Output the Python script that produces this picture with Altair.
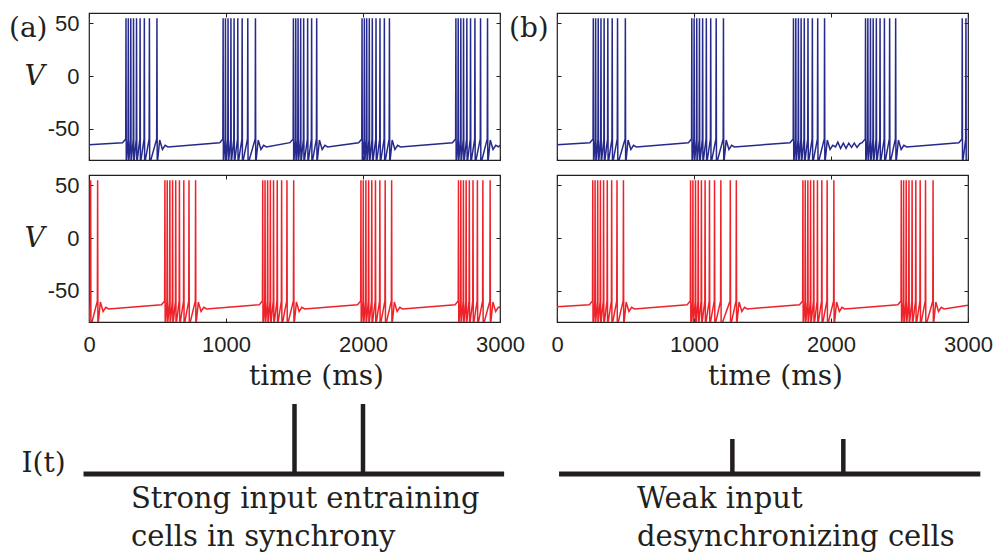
import altair as alt
import pandas as pd

# ---------------- data ----------------
# spike times (ms), grouped by burst
A_TOP_BURSTS = [
    [270, 287, 305, 325, 347, 373, 404, 441, 496],
    [979, 996, 1015, 1036, 1059, 1086, 1118, 1159, 1215],
    [1492, 1509, 1526, 1545, 1567, 1596, 1625, 1662],
    [1993, 2010, 2027, 2046, 2068, 2095, 2124, 2156, 2193],
    [2678, 2695, 2714, 2734, 2758, 2785, 2817, 2858, 2909],
]
A_BOT_BURSTS = [
    [12, 63],
    [554, 571, 590, 610, 633, 660, 692, 730, 778],
    [1268, 1285, 1304, 1324, 1347, 1374, 1406, 1445, 1494],
    [1985, 2002, 2021, 2041, 2064, 2091, 2123, 2162, 2209],
    [2697, 2714, 2733, 2753, 2776, 2803, 2835, 2875, 2928],
]
B_TOP_BURSTS = [
    [265, 282, 301, 321, 344, 371, 403, 442, 499],
    [984, 1001, 1020, 1040, 1063, 1090, 1122, 1162, 1215],
    [1726, 1743, 1762, 1782, 1805, 1832, 1864, 1903, 1953],
    [2252, 2269, 2288, 2308, 2331, 2358, 2390, 2428, 2472],
    [2958, 2985],
]
B_BOT_BURSTS = [
    [261, 278, 297, 317, 340, 367, 399, 438, 485],
    [975, 992, 1011, 1031, 1054, 1081, 1113, 1150, 1196, 1265, 1309],
    [1795, 1812, 1831, 1851, 1874, 1901, 1933, 1972, 2021],
    [2513, 2530, 2549, 2569, 2592, 2619, 2651, 2690, 2745],
]
# subthreshold wiggles in panel (b) top between bursts 3 and 4
B_TOP_WIGGLE_T = [2050, 2070, 2090, 2110, 2130, 2150, 2170, 2190, 2210]
B_TOP_WIGGLE_V = [-63, -69, -64, -69, -64, -68, -64, -68, -64.5]

# trace start / end voltages (mV)
A_TOP_ENDS = [-65.5, -66]
A_BOT_ENDS = [-80, -66]
B_TOP_ENDS = [-65.5, -80]
B_BOT_ENDS = [-65.5, -64]

# voltage levels of the spike waveform (mV)
PEAK_V = 55
ONSET_V = -60
TROUGH_V = -84
PRE_V = -63.5
PRE_DT = 25
AHP_DT = [20, 40, 60, 80]
AHP_V = [-61, -70, -66, -67.5]

T_MAX = 3000
X_TICKS = [0, 1000, 2000, 3000]
Y_TICKS = [-50, 0, 50]

# input pulses I(t)
IN_A_LINE = [-40, 3030]
IN_A_TIMES = [1500, 2000]
IN_A_AMP = [2, 2]
IN_B_LINE = [15, 3090]
IN_B_TIMES = [1280, 2090]
IN_B_AMP = [1, 1]
IN_DOMAIN_TOP = 3.914

BLUE = "#262a8c"
RED = "#ee2229"
INK = "#231f20"
SANS = "Liberation Sans"
SERIF = "DejaVu Serif"


def trace(bursts, ends, extra_t=(), extra_v=()):
    pts = [(0.0, ends[0])]
    for b in bursts:
        if b[0] > PRE_DT + 5:
            pts.append((b[0] - PRE_DT, PRE_V))
        for s in b:
            pts += [(s - 2, ONSET_V), (s, PEAK_V), (s + 2, TROUGH_V)]
        for dt, v in zip(AHP_DT, AHP_V):
            if b[-1] + dt < T_MAX:
                pts.append((b[-1] + dt, v))
    pts += list(zip(extra_t, extra_v))
    pts.append((T_MAX, ends[1]))
    pts.sort()
    df = pd.DataFrame(pts, columns=["t", "v"])
    df["i"] = range(len(df))
    return df


W, H = 411, 147
H_IN = 137
xscale = alt.Scale(domain=[0, T_MAX], nice=False, zero=False)
yscale = alt.Scale(domain=[-80, 60], nice=False, zero=False)
LABEL_EXPR = "'' + datum.value"


def panel(df, color, xlabels, ylabels, letter=None, letter_dx=-80, xtitle_x=220):
    xb = dict(orient="bottom", offset=-4, tickSize=4, domain=False, grid=False,
              values=X_TICKS, labels=xlabels, tickColor=INK, tickWidth=1)
    if xlabels:
        xb.update(labelFont=SANS, labelFontSize=22, labelPadding=12, labelColor=INK,
                  labelExpr=LABEL_EXPR, labelFlush=False, labelOverlap=False,
                  title="time (ms)",
                  titleFont=SERIF, titleFontSize=28, titleFontWeight="normal",
                  titleColor=INK, titleX=xtitle_x, titleY=58, titleAlign="center",
                  titleBaseline="middle")
    else:
        xb.update(title=None)
    yl = dict(orient="left", offset=-4, tickSize=4, domain=False, grid=False,
              values=Y_TICKS, labels=ylabels, tickColor=INK, tickWidth=1)
    if ylabels:
        yl.update(labelFont=SANS, labelFontSize=22, labelPadding=10, labelColor=INK,
                  labelExpr=LABEL_EXPR, labelFlush=False, labelOverlap=False,
                  title="V", titleFont=SERIF, titleFontStyle="italic",
                  titleFontSize=28, titleFontWeight="normal", titleColor=INK,
                  titleAngle=0, titleX=-59, titleY=63, titleAlign="center",
                  titleBaseline="middle")
    else:
        yl.update(title=None)
    line = alt.Chart(df).mark_line(color=color, strokeWidth=1.5, clip=True).encode(
        x=alt.X("t:Q", scale=xscale, axis=alt.Axis(**xb)),
        y=alt.Y("v:Q", scale=yscale, axis=alt.Axis(**yl)),
        order="i:Q",
    )
    ghost_df = pd.DataFrame({"t": [0], "v": [0]})
    ghost = alt.Chart(ghost_df).mark_point(opacity=0).encode(
        x=alt.X("t:Q", scale=xscale, axis=alt.Axis(
            orient="top", offset=-4, tickSize=4, domain=False, grid=False,
            values=X_TICKS, labels=False, title=None, tickColor=INK, tickWidth=1)),
        y=alt.Y("v:Q", scale=yscale, axis=alt.Axis(
            orient="right", offset=-4, tickSize=4, domain=False, grid=False,
            values=Y_TICKS, labels=False, title=None, tickColor=INK, tickWidth=1)),
    )
    props = dict(width=W, height=H)
    if letter:
        props["title"] = alt.Title(letter, anchor="start", frame="group", orient="top",
                                   dx=letter_dx, dy=44, offset=0, baseline="middle",
                                   font=SERIF, fontSize=28, fontWeight="normal",
                                   color=INK)
    return alt.layer(line, ghost).resolve_axis(x="independent", y="independent").properties(**props)


def input_panel(line_ends, times, amps, caption, cap_dx, ylabel):
    base_df = pd.DataFrame({"t0": [line_ends[0]], "t1": [line_ends[1]], "y": [0]})
    pulse_df = pd.DataFrame({"t": times, "base": [0] * len(times), "amp": amps})
    ys = alt.Scale(domain=[0, IN_DOMAIN_TOP], nice=False, zero=False)
    ya = dict(labels=False, ticks=False, domain=False, grid=False)
    if ylabel:
        ya.update(title=ylabel, titleFont=SERIF, titleFontSize=28, titleFontWeight="normal",
                  titleColor=INK, titleAngle=0, titleX=-46, titleY=126,
                  titleAlign="center", titleBaseline="middle")
    else:
        ya.update(title=None)
    base = alt.Chart(base_df).mark_rule(strokeWidth=5, color=INK).encode(
        x=alt.X("t0:Q", scale=xscale, axis=None),
        x2="t1:Q",
        y=alt.Y("y:Q", scale=ys, axis=alt.Axis(**ya)),
    )
    pulses = alt.Chart(pulse_df).mark_rule(strokeWidth=4.5, color=INK).encode(
        x=alt.X("t:Q", scale=xscale, axis=None),
        y=alt.Y("base:Q", scale=ys, axis=alt.Axis(**ya)),
        y2="amp:Q",
    )
    return alt.layer(base, pulses).properties(
        width=W, height=H_IN,
        view=alt.ViewBackground(stroke="transparent"),
        title=alt.Title(caption, orient="bottom", anchor="start", frame="group",
                        dx=cap_dx, offset=31, baseline="alphabetic", lineHeight=38,
                        font=SERIF, fontSize=29, fontWeight="normal", color=INK),
    )


a_top = panel(trace(A_TOP_BURSTS, A_TOP_ENDS), BLUE, False, True, "(a)", -80)
b_top = panel(trace(B_TOP_BURSTS, B_TOP_ENDS, B_TOP_WIGGLE_T, B_TOP_WIGGLE_V),
              BLUE, False, False, "(b)", -48)
a_bot = panel(trace(A_BOT_BURSTS, A_BOT_ENDS), RED, True, True, None, -80, 227)
b_bot = panel(trace(B_BOT_BURSTS, B_BOT_ENDS), RED, True, False, None, -80, 218)

in_a = input_panel(IN_A_LINE, IN_A_TIMES, IN_A_AMP,
                   ["Strong input entraining", "cells in synchrony"], 42, "I(t)")
in_b = input_panel(IN_B_LINE, IN_B_TIMES, IN_B_AMP,
                   ["Weak input", "desynchronizing cells"], 80, None)

chart = alt.concat(
    a_top, b_top, a_bot, b_bot, in_a, in_b,
    columns=2, spacing={"row": 15, "column": 57}, bounds="flush",
).properties(
    padding={"left": 8, "top": 11, "right": 0, "bottom": 0},
    background="white",
).configure_view(stroke=INK, strokeWidth=1.2)

chart.save("out.html", embed_options={"renderer": "svg", "actions": False})
